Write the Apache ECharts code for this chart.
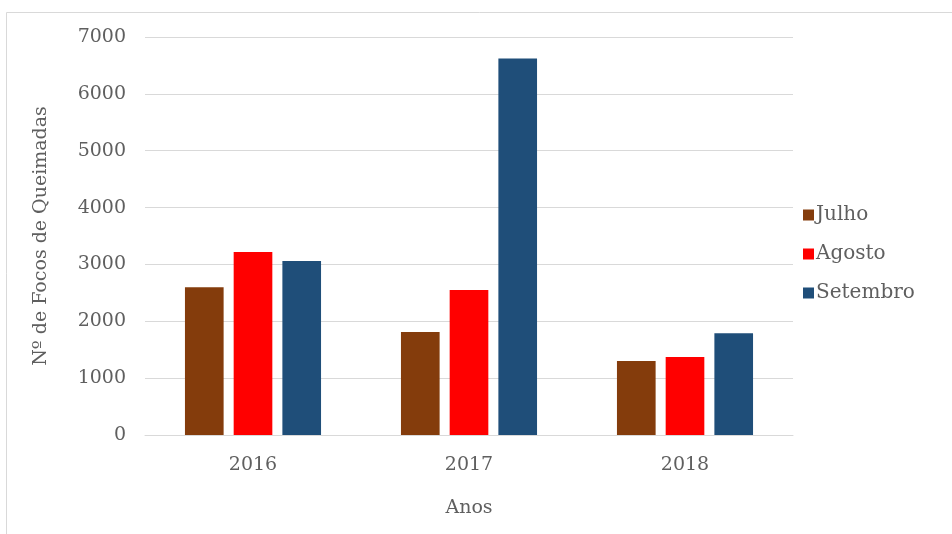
<!DOCTYPE html>
<html><head><meta charset="utf-8">
<script src="https://cdn.jsdelivr.net/npm/echarts@6/dist/echarts.min.js"></script>
<style>html,body{margin:0;padding:0;background:#fff}#c{width:952px;height:534px}</style>
</head><body><div id="c"></div>
<script>
const categories = ['2016', '2017', '2018'];
const julho = [2600, 1810, 1300];
const agosto = [3220, 2550, 1370];
const setembro = [3060, 6620, 1790];
const seriesNames = ['Julho', 'Agosto', 'Setembro'];
const colors = ['#843C0C', '#FF0000', '#1F4E79'];
const FONT = 'DejaVu Serif';
const TXT = '#5f5f5f';

const chart = echarts.init(document.getElementById('c'));
chart.setOption({
  animation: false,
  backgroundColor: '#fff',
  graphic: [{
    type: 'rect', shape: { x: 6.5, y: 12.5, width: 1000, height: 600 },
    style: { fill: 'none', stroke: '#d9d9d9', lineWidth: 1 }, silent: true
  }],
  grid: { left: 145, right: 159, top: 37, bottom: 99, containLabel: false },
  legend: {
    orient: 'vertical', left: 798, top: 200, itemGap: 19,
    itemWidth: 11, itemHeight: 11, icon: 'rect',
    textStyle: { fontFamily: FONT, fontSize: 20, color: TXT, padding: [0, 0, 0, -3] },
    data: seriesNames
  },
  xAxis: {
    type: 'category', data: categories,
    name: 'Anos', nameLocation: 'middle', nameGap: 64,
    nameTextStyle: { fontFamily: FONT, fontSize: 19, color: TXT },
    axisLine: { lineStyle: { color: '#d9d9d9' } },
    axisTick: { show: false },
    axisLabel: { fontFamily: FONT, fontSize: 19, color: TXT, margin: 21 }
  },
  yAxis: {
    type: 'value', min: 0, max: 7000, interval: 1000,
    name: 'Nº de Focos de Queimadas', nameLocation: 'middle', nameGap: 94,
    nameTextStyle: { fontFamily: FONT, fontSize: 19, color: TXT },
    axisLine: { show: false }, axisTick: { show: false },
    axisLabel: { fontFamily: FONT, fontSize: 19, color: TXT, margin: 19, formatter: v => String(v) },
    splitLine: { lineStyle: { color: '#d9d9d9' } }
  },
  series: [julho, agosto, setembro].map((d, i) => ({
    name: seriesNames[i], type: 'bar', data: d,
    itemStyle: { color: colors[i] },
    barGap: '26%', barCategoryGap: '37%'
  }))
});
</script></body></html>
